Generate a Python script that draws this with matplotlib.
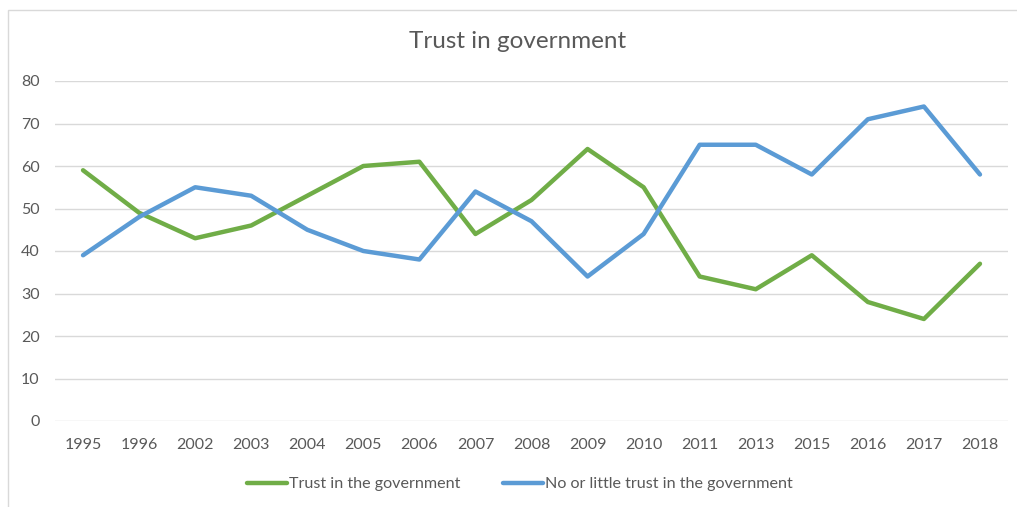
import numpy as np
import matplotlib.pyplot as plt
from matplotlib.patches import Rectangle

years = ["1995", "1996", "2002", "2003", "2004", "2005", "2006", "2007", "2008",
         "2009", "2010", "2011", "2013", "2015", "2016", "2017", "2018"]
trust = [59, 49, 43, 46, 53, 60, 61, 44, 52, 64, 55, 34, 31, 39, 28, 24, 37]
no_trust = [39, 48, 55, 53, 45, 40, 38, 54, 47, 34, 44, 65, 65, 58, 71, 74, 58]

plt.rcParams['font.family'] = ['Lato', 'DejaVu Sans']
txt = "#595959"

fig = plt.figure(figsize=(10.17, 5.07), dpi=100)
ax = fig.add_axes([55/1017, 1 - 421/507, (1008-55)/1017, (421-81)/507])

x = np.arange(len(years))
ax.plot(x, trust, color="#70AD47", lw=3.2, label="Trust in the government",
        solid_capstyle="round")
ax.plot(x, no_trust, color="#5B9BD5", lw=3.2, label="No or little trust in the government",
        solid_capstyle="round")

ax.set_xlim(-0.5, len(years) - 0.5)
ax.set_ylim(0, 80)
ax.set_yticks(range(0, 81, 10))
ax.set_xticks(x)
ax.set_xticklabels(years)
ax.grid(axis="y", color="#D9D9D9", lw=1)
ax.set_axisbelow(True)
for s in ax.spines.values():
    s.set_visible(False)
ax.tick_params(length=0, colors=txt, labelsize=11.5)
ax.tick_params(axis="x", pad=12)
ax.tick_params(axis="y", pad=11)

fig.text(518/1017, 1 - 42/507, "Trust in government", ha="center", va="center",
         fontsize=17.5, color=txt)

leg = fig.legend(loc="center", bbox_to_anchor=(520/1017, 1 - 484/507), ncol=2,
                 frameon=False, fontsize=11.6, handlelength=2.5, handletextpad=0.15,
                 columnspacing=2.6, labelcolor=txt)

# chart border
fig.patches.append(Rectangle((8/1017, -0.1), 1.2, (1 - 10/507) + 0.1,
                             transform=fig.transFigure, fill=False,
                             edgecolor="#D9D9D9", lw=1))

fig.savefig("out.png", dpi=100)
